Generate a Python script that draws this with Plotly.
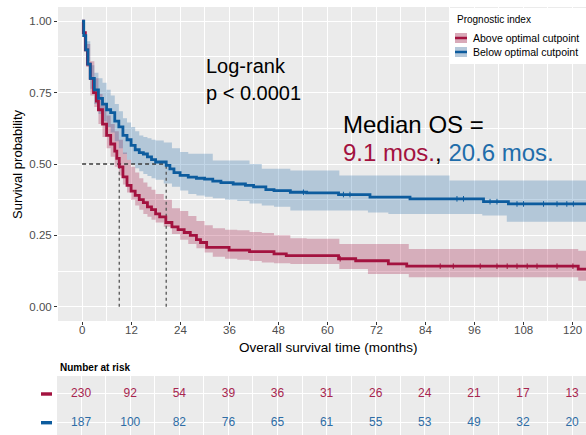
import numpy as np
import plotly.graph_objects as go

# ---- Kaplan-Meier estimates (months, survival probability) ----
above_t = [0, 0.3, 0.8, 1.3, 2.0, 2.8, 3.5, 4.0, 5.0, 6.0, 7.0, 8.0, 8.5, 9.1, 10.0, 11.0,
           12.0, 13.0, 14.0, 15.0, 16.0, 17.0, 18.0, 19.0, 20.5, 22.0, 23.5, 25.0, 26.5,
           28.0, 29.0, 30.5, 36.0, 41.0, 47.0, 50.0, 62.8, 67.0, 75.0, 79.5, 121.5, 123.5]
above_s = [1.0, 0.96, 0.90, 0.85, 0.80, 0.75, 0.72, 0.69, 0.64, 0.60, 0.57, 0.545, 0.52, 0.49,
           0.455, 0.425, 0.405, 0.39, 0.375, 0.365, 0.35, 0.34, 0.325, 0.315, 0.295, 0.28,
           0.27, 0.26, 0.25, 0.235, 0.225, 0.208, 0.198, 0.193, 0.185, 0.179, 0.168, 0.161,
           0.15, 0.142, 0.132, 0.132]

below_t = [0, 0.4, 0.9, 1.4, 2.0, 3.0, 4.0, 5.0, 6.0, 7.0, 8.0, 9.0, 10.0, 11.0, 12.0, 13.0,
           14.0, 15.0, 16.0, 17.0, 18.0, 20.6, 21.5, 22.5, 24.0, 26.0, 28.0, 30.0, 32.0, 34.0,
           37.0, 40.0, 42.0, 45.0, 47.0, 51.0, 55.0, 62.8, 70.5, 80.3, 98.3, 104.4, 123.5]
below_s = [1.0, 0.95, 0.90, 0.85, 0.80, 0.76, 0.73, 0.71, 0.69, 0.68, 0.65, 0.63, 0.60, 0.585,
           0.565, 0.55, 0.54, 0.535, 0.525, 0.515, 0.507, 0.495, 0.483, 0.47, 0.46, 0.454,
           0.45, 0.447, 0.44, 0.435, 0.43, 0.425, 0.42, 0.41, 0.407, 0.401, 0.399, 0.393,
           0.384, 0.378, 0.368, 0.36, 0.36]

# ---- 95% confidence bands ----
band_t = [0, 1, 2, 3, 4, 5, 6, 7, 8, 9, 10, 11, 12, 13, 14, 15, 16, 17, 18, 20, 22, 24, 26,
          28, 30, 32, 35, 38, 41, 44, 47, 51, 55, 63, 70, 75, 80, 90, 98, 104, 110, 121.5, 123.5]
above_upper = [1.0, 0.92, 0.86, 0.80, 0.745, 0.71, 0.67, 0.64, 0.615, 0.585, 0.54, 0.515, 0.49,
               0.47, 0.45, 0.435, 0.42, 0.41, 0.395, 0.375, 0.345, 0.335, 0.318, 0.30, 0.285,
               0.275, 0.27, 0.268, 0.262, 0.258, 0.25, 0.24, 0.238, 0.22, 0.22, 0.22, 0.202,
               0.202, 0.202, 0.202, 0.202, 0.196, 0.196]
above_lower = [1.0, 0.84, 0.74, 0.70, 0.64, 0.595, 0.555, 0.525, 0.49, 0.46, 0.428, 0.40, 0.375,
               0.355, 0.34, 0.325, 0.315, 0.305, 0.295, 0.28, 0.255, 0.235, 0.22, 0.205, 0.19,
               0.175, 0.168, 0.165, 0.16, 0.155, 0.152, 0.15, 0.15, 0.132, 0.115, 0.115, 0.103,
               0.103, 0.103, 0.103, 0.103, 0.091, 0.091]
below_upper = [1.0, 0.93, 0.846, 0.82, 0.80, 0.785, 0.76, 0.74, 0.71, 0.685, 0.66, 0.645, 0.63,
               0.615, 0.60, 0.595, 0.59, 0.585, 0.582, 0.575, 0.555, 0.542, 0.536, 0.536, 0.536,
               0.512, 0.512, 0.512, 0.50, 0.483, 0.483, 0.477, 0.477, 0.46, 0.46, 0.46, 0.46,
               0.442, 0.442, 0.442, 0.442, 0.442, 0.442]
below_lower = [1.0, 0.86, 0.764, 0.71, 0.675, 0.65, 0.63, 0.61, 0.58, 0.555, 0.535, 0.515, 0.50,
               0.485, 0.475, 0.465, 0.458, 0.45, 0.445, 0.432, 0.42, 0.407, 0.395, 0.39, 0.385,
               0.38, 0.375, 0.37, 0.362, 0.355, 0.35, 0.337, 0.337, 0.337, 0.33, 0.325, 0.325,
               0.325, 0.32, 0.298, 0.298, 0.298, 0.298]

# ---- censoring times ----
above_censor = [63.2, 87.7, 90.9, 97.5, 101.6, 104.1, 106.5, 109.0, 111.4, 116.3, 120.2]
below_censor = [54.2, 64.0, 65.6, 91.8, 93.4, 99.9, 101.6, 106.5, 108.1, 113.0, 116.3, 118.7, 120.3]

# ---- medians ----
median_above = 9.1
median_below = 20.6

# ---- number at risk ----
risk_times = [0, 12, 24, 36, 48, 60, 72, 84, 96, 108, 120]
risk_above = [230, 92, 54, 39, 36, 31, 26, 24, 21, 17, 13]
risk_below = [187, 100, 82, 76, 65, 61, 55, 53, 49, 32, 20]

x_ticks = [0, 12, 24, 36, 48, 60, 72, 84, 96, 108, 120]
y_ticks = [0, 0.25, 0.5, 0.75, 1.0]
y_ticktext = ["0.00", "0.25", "0.50", "0.75", "1.00"]

RED = "#A3123F"
BLUE = "#0D5C9E"
RED_FILL = "rgba(163,18,63,0.28)"
BLUE_FILL = "rgba(13,92,158,0.25)"
RED_TXT = "#A8254F"
BLUE_TXT = "#2E6DA6"
FONT = "Liberation Sans, Arial, sans-serif"

W, H = 586, 435


def fx(p):
    return p / W


def fy(p):
    return 1 - p / H


def step_value(ts, ss, t):
    i = np.searchsorted(np.asarray(ts), t, side="right") - 1
    return ss[max(i, 0)]


fig = go.Figure()

# confidence bands
for lower, upper, fillc in [(above_lower, above_upper, RED_FILL),
                            (below_lower, below_upper, BLUE_FILL)]:
    fig.add_trace(go.Scatter(x=band_t, y=lower, mode="lines", line=dict(width=0, shape="hv"),
                             hoverinfo="skip", showlegend=False))
    fig.add_trace(go.Scatter(x=band_t, y=upper, mode="lines", line=dict(width=0, shape="hv"),
                             fill="tonexty", fillcolor=fillc, hoverinfo="skip",
                             showlegend=False))

# median reference lines
fig.add_trace(go.Scatter(x=[0, median_below], y=[0.5, 0.5], mode="lines",
                         line=dict(color="#3a3a3a", width=1.3, dash="4px,3px"),
                         showlegend=False, hoverinfo="skip"))
for m in (median_above, median_below):
    fig.add_trace(go.Scatter(x=[m, m], y=[0, 0.5], mode="lines",
                             line=dict(color="#555555", width=1.3, dash="3px,3px"),
                             showlegend=False, hoverinfo="skip"))

# survival curves
for ts, ss, col, name, cens in [(above_t, above_s, RED, "Above optimal cutpoint", above_censor),
                                (below_t, below_s, BLUE, "Below optimal cutpoint", below_censor)]:
    fig.add_trace(go.Scatter(x=ts, y=ss, mode="lines", line=dict(color=col, width=2.8, shape="hv"),
                             name=name, showlegend=False))
    fig.add_trace(go.Scatter(x=cens, y=[step_value(ts, ss, c) for c in cens], mode="markers",
                             marker=dict(symbol="line-ns", size=4, line=dict(color=col, width=1)),
                             showlegend=False, hoverinfo="skip"))

# number-at-risk table
fig.add_trace(go.Scatter(x=risk_times, y=[2] * len(risk_times), mode="text",
                         text=[str(v) for v in risk_above], xaxis="x2", yaxis="y2",
                         textfont=dict(color=RED_TXT, size=12, family=FONT), showlegend=False))
fig.add_trace(go.Scatter(x=risk_times, y=[1] * len(risk_times), mode="text",
                         text=[str(v) for v in risk_below], xaxis="x2", yaxis="y2",
                         textfont=dict(color=BLUE_TXT, size=12, family=FONT), showlegend=False))

x_range = [-5.9, 123.4]
grid = dict(showgrid=True, gridcolor="white", gridwidth=1.1, zeroline=False, showline=False)
minor_x = dict(dtick=6, tick0=0, showgrid=True, gridcolor="white", gridwidth=0.5, ticks="")

fig.update_layout(
    width=W, height=H, autosize=False,
    margin=dict(l=0, r=0, t=0, b=0),
    paper_bgcolor="white", plot_bgcolor="#EBEBEB",
    font=dict(family=FONT, color="#4D4D4D", size=11),
    showlegend=False,
    xaxis=dict(domain=[fx(58), 1], range=x_range, tickvals=x_ticks, showticklabels=False,
               ticks="outside", ticklen=3, tickcolor="#333333", minor=minor_x, **grid),
    yaxis=dict(domain=[fy(321), fy(7)], range=[-0.05, 1.05], tickvals=y_ticks, ticktext=y_ticktext,
               ticks="outside", ticklen=3, tickcolor="#333333",
               tickfont=dict(size=11.5, color="#4D4D4D"),
               minor=dict(dtick=0.125, tick0=0, showgrid=True, gridcolor="white", gridwidth=0.5,
                          ticks=""), **grid),
    xaxis2=dict(domain=[fx(57), 1], range=x_range, tickvals=x_ticks, showticklabels=False,
                ticks="", anchor="y2", minor=minor_x, **grid),
    yaxis2=dict(domain=[0, fy(376)], range=[0.571, 2.627], tickvals=[1, 2], showticklabels=False,
                ticks="", anchor="x2", **grid),
)

annotations = [
    dict(text="Log-rank", x=fx(204), y=fy(66), xanchor="left", yanchor="middle",
         font=dict(size=20, color="black")),
    dict(text="p < 0.0001", x=fx(204), y=fy(93), xanchor="left", yanchor="middle",
         font=dict(size=20, color="black")),
    dict(text="Median OS =", x=fx(341), y=fy(124), xanchor="left", yanchor="middle",
         font=dict(size=24, color="black")),
    dict(text=f"<span style='color:{RED}'>9.1 mos.</span>, "
              f"<span style='color:#1F6DAA'>20.6 mos.</span>",
         x=fx(341), y=fy(152), xanchor="left", yanchor="middle",
         font=dict(size=24, color="black")),
    dict(text="Survival probability", x=fx(18), y=fy(164), xanchor="center", yanchor="middle",
         textangle=-90, font=dict(size=13, color="black")),
    dict(text="Overall survival time (months)", x=fx(328), y=fy(347), xanchor="center",
         yanchor="middle", font=dict(size=13.5, color="black")),
    dict(text="<b>Number at risk</b>", x=fx(58), y=fy(367), xanchor="left", yanchor="middle",
         font=dict(size=10, color="black")),
    dict(text="Prognostic index", x=fx(455), y=fy(20), xanchor="left", yanchor="middle",
         font=dict(size=10, color="black")),
    dict(text="Above optimal cutpoint", x=fx(471), y=fy(38), xanchor="left", yanchor="middle",
         font=dict(size=10.5, color="black")),
    dict(text="Below optimal cutpoint", x=fx(471), y=fy(52), xanchor="left", yanchor="middle",
         font=dict(size=10.5, color="black")),
]
for a in annotations:
    a.update(xref="paper", yref="paper")
# x tick labels placed just beneath the tick marks
for t in x_ticks:
    annotations.append(dict(text=str(t), x=t, xref="x", y=fy(330), yref="paper",
                            xanchor="center", yanchor="middle",
                            font=dict(size=11.5, color="#4D4D4D")))
for a in annotations:
    a["showarrow"] = False
fig.update_layout(annotations=annotations)

shapes = [
    # legend box and keys
    dict(type="rect", x0=fx(450), x1=fx(590), y0=fy(64), y1=fy(8), fillcolor="white",
         line=dict(width=0), layer="above"),
    dict(type="rect", x0=fx(455), x1=fx(467), y0=fy(43), y1=fy(33), fillcolor="#D9AAB9",
         line=dict(width=0), layer="above"),
    dict(type="line", x0=fx(455), x1=fx(467), y0=fy(38), y1=fy(38),
         line=dict(color=RED, width=2.5), layer="above"),
    dict(type="rect", x0=fx(455), x1=fx(467), y0=fy(57), y1=fy(47), fillcolor="#B5C8DA",
         line=dict(width=0), layer="above"),
    dict(type="line", x0=fx(455), x1=fx(467), y0=fy(52), y1=fy(52),
         line=dict(color=BLUE, width=2.5), layer="above"),
    # risk-table row keys
    dict(type="rect", x0=fx(41), x1=fx(52), y0=1.94, y1=2.06, xref="paper", yref="y2",
         fillcolor=RED, line=dict(width=0)),
    dict(type="rect", x0=fx(41), x1=fx(52), y0=0.94, y1=1.06, xref="paper", yref="y2",
         fillcolor=BLUE, line=dict(width=0)),
]
for s in shapes:
    s.setdefault("xref", "paper")
    s.setdefault("yref", "paper")
fig.update_layout(shapes=shapes)

fig.write_html("out.html")
